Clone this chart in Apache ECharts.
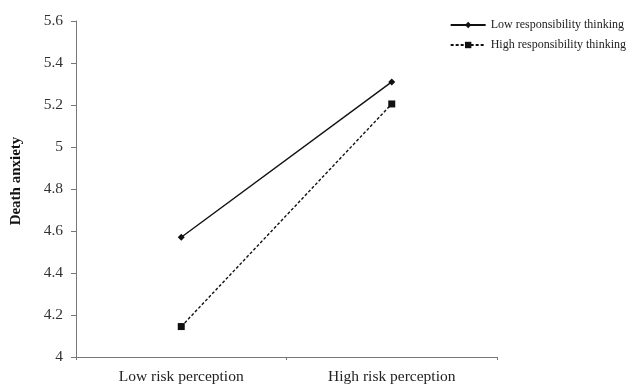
<!DOCTYPE html>
<html><head><meta charset="utf-8">
<script src="https://cdn.jsdelivr.net/npm/echarts@6/dist/echarts.min.js"></script>
<style>html,body{margin:0;padding:0;background:#fff}#c{width:630px;height:385px}</style>
</head><body><div id="c"></div>
<script>
const categories = ['Low risk perception', 'High risk perception'];
const lowResp = [4.57, 5.31];
const highResp = [4.145, 5.205];
const yTicks = [4, 4.2, 4.4, 4.6, 4.8, 5, 5.2, 5.4, 5.6];
const seriesNames = ['Low responsibility thinking', 'High responsibility thinking'];

const font = 'Liberation Serif, Times New Roman, serif';
const chart = echarts.init(document.getElementById('c'));
chart.setOption({
  animation: false,
  backgroundColor: '#fff',
  grid: {left: 76, top: 21, right: 133, bottom: 28},
  legend: {
    orient: 'vertical', right: -1, top: 14, itemGap: 8,
    itemWidth: 35, itemHeight: 8,
    textStyle: {fontFamily: font, fontSize: 12, color: '#222'},
    data: seriesNames
  },
  xAxis: {
    type: 'category', data: categories, boundaryGap: true,
    axisLine: {lineStyle: {color: '#777', width: 1}},
    axisTick: {show: true, inside: false, length: 3, lineStyle: {color: '#777'}},
    axisLabel: {fontFamily: font, fontSize: 15.5, color: '#222', margin: 12}
  },
  yAxis: {
    type: 'value', min: 4, max: 5.6, interval: 0.2,
    name: 'Death anxiety', nameLocation: 'middle', nameGap: 52,
    nameTextStyle: {fontFamily: font, fontSize: 15, fontWeight: 'bold', color: '#111', padding: [0, 0, 0, 16]},
    axisLine: {show: true, lineStyle: {color: '#777', width: 1}},
    axisTick: {show: true, length: 5, lineStyle: {color: '#777'}},
    splitLine: {show: false},
    axisLabel: {fontFamily: font, fontSize: 15.5, color: '#333', margin: 13,
      formatter: v => { const t = yTicks.find(x => Math.abs(x - v) < 1e-6); return t === undefined ? '' : String(t); }}
  },
  series: [
    {name: seriesNames[0], type: 'line', data: lowResp, symbol: 'diamond', symbolSize: 7,
     itemStyle: {color: '#111'}, lineStyle: {color: '#111', width: 1.4}},
    {name: seriesNames[1], type: 'line', data: highResp, symbol: 'rect', symbolSize: 7,
     itemStyle: {color: '#111'}, lineStyle: {color: '#111', width: 1.4, type: [3, 2]}}
  ]
});
</script></body></html>
